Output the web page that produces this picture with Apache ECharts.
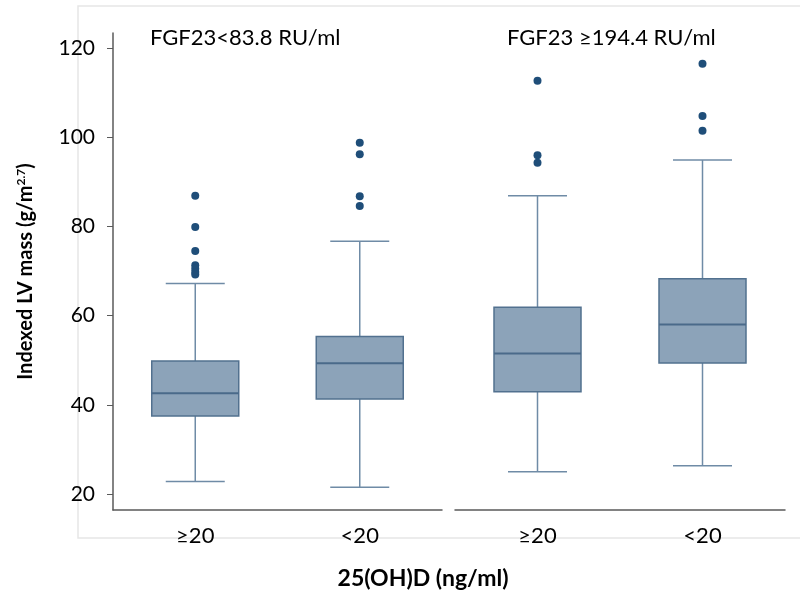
<!DOCTYPE html>
<html>
<head>
<meta charset="utf-8">
<title>Indexed LV mass by 25(OH)D and FGF23</title>
<script src="https://cdn.jsdelivr.net/npm/echarts@6/dist/echarts.min.js"></script>
<style>
  html, body { margin: 0; padding: 0; background: #fff; }
  #main { width: 800px; height: 604px; }
</style>
</head>
<body>
<div id="main"></div>
<script>
// vitamin D categories, one pair per FGF23 group
var vitD = ['≥20', '<20'];
var groupTitles = ['FGF23<83.8 RU/ml', 'FGF23 ≥194.4 RU/ml'];
var yTicks = [20, 40, 60, 80, 100, 120];

// box statistics, order: grp1 ≥20, grp1 <20, grp2 ≥20, grp2 <20
var whiskerLow  = [22.8, 21.5, 25.0, 26.3];
var quart1      = [37.5, 41.3, 42.9, 49.4];
var median      = [42.6, 49.3, 51.5, 58.0];
var quart3      = [49.8, 55.3, 61.9, 68.3];
var whiskerHigh = [67.2, 76.7, 86.9, 94.9];

// outliers: [box index, value]
var outliers = [
  [0, 86.9], [0, 79.9], [0, 74.5], [0, 71.3], [0, 70.5], [0, 69.8], [0, 69.2],
  [1, 98.8], [1, 96.2], [1, 86.8], [1, 84.6],
  [2, 112.7], [2, 96.0], [2, 94.3],
  [3, 116.5], [3, 104.8], [3, 101.5]
];

var font = 'Lato, "Open Sans", sans-serif';
var yMin = 16.4, yMax = 123.4;

function boxRows(g) {
  var rows = [];
  for (var i = g * 2; i < g * 2 + 2; i++) {
    rows.push([vitD[i - g * 2], whiskerLow[i], quart1[i], median[i], quart3[i], whiskerHigh[i]]);
  }
  return rows;
}
function outlierRows(g) {
  return outliers.filter(function (o) { return Math.floor(o[0] / 2) === g; })
    .map(function (o) { return [vitD[o[0] % 2], o[1]]; });
}

function renderBox(params, api) {
  var x = api.value(0);
  var pLow = api.coord([x, api.value(1)]);
  var pQ1 = api.coord([x, api.value(2)]);
  var pMed = api.coord([x, api.value(3)]);
  var pQ3 = api.coord([x, api.value(4)]);
  var pHigh = api.coord([x, api.value(5)]);
  var cx = pLow[0];
  var bw = 87, cw = 59;
  var whisk = { stroke: '#6f8ba6', lineWidth: 1.5 };
  return {
    type: 'group',
    children: [
      { type: 'line', shape: { x1: cx, y1: pHigh[1], x2: cx, y2: pQ3[1] }, style: whisk },
      { type: 'line', shape: { x1: cx, y1: pQ1[1], x2: cx, y2: pLow[1] }, style: whisk },
      { type: 'line', shape: { x1: cx - cw / 2, y1: pHigh[1], x2: cx + cw / 2, y2: pHigh[1] }, style: whisk },
      { type: 'line', shape: { x1: cx - cw / 2, y1: pLow[1], x2: cx + cw / 2, y2: pLow[1] }, style: whisk },
      { type: 'rect', shape: { x: cx - bw / 2, y: pQ3[1], width: bw, height: pQ1[1] - pQ3[1] },
        style: { fill: '#8ca3b9', stroke: '#52718f', lineWidth: 1.5 } },
      { type: 'line', shape: { x1: cx - bw / 2, y1: pMed[1], x2: cx + bw / 2, y2: pMed[1] },
        style: { stroke: '#4a6a8a', lineWidth: 2 } }
    ]
  };
}

var myChart = echarts.init(document.getElementById('main'));

var axisColor = '#5a5a5a';
var xAxisBase = {
  type: 'category',
  data: vitD,
  axisLine: { lineStyle: { color: axisColor, width: 1.5 } },
  axisTick: { show: false },
  axisLabel: { fontFamily: font, fontSize: 22, color: '#000', margin: 15 },
  splitLine: { show: false }
};

var option = {
  animation: false,
  backgroundColor: '#fff',
  graphic: [{
    type: 'rect', silent: true, z: -10,
    shape: { x: 78, y: 6, width: 740, height: 532 },
    style: { fill: 'none', stroke: '#e6e6e6', lineWidth: 1.5 }
  }],
  title: [
    { text: groupTitles[0], left: 150, top: 27, padding: 0,
      textStyle: { fontFamily: font, fontSize: 22, fontWeight: 'normal', color: '#000' } },
    { text: groupTitles[1], left: 507, top: 27, padding: 0,
      textStyle: { fontFamily: font, fontSize: 22, fontWeight: 'normal', color: '#000' } },
    { text: '25(OH)D (ng/ml)', left: 423, textAlign: 'center', top: 567, padding: 0,
      textStyle: { fontFamily: font, fontSize: 23, fontWeight: 'bold', color: '#000' } }
  ],
  grid: [
    { left: 113, top: 33, width: 329, height: 477 },
    { left: 455, top: 33, width: 330, height: 477 }
  ],
  xAxis: [
    Object.assign({ gridIndex: 0 }, xAxisBase),
    Object.assign({ gridIndex: 1 }, xAxisBase)
  ],
  yAxis: [
    {
      gridIndex: 0, type: 'value', min: yMin, max: yMax,
      name: '{a|Indexed LV mass (g/m}{s|2.7}{a|)}',
      nameLocation: 'middle', nameGap: 76, nameRotate: 90,
      nameTextStyle: {
        rich: {
          a: { fontFamily: font, fontSize: 20, fontWeight: 'bold', color: '#000' },
          s: { fontFamily: font, fontSize: 12, fontWeight: 'bold', color: '#000', verticalAlign: 'top', padding: [0, 0, 10, 0] }
        }
      },
      axisLine: { show: true, lineStyle: { color: axisColor, width: 1.5 } },
      axisTick: { show: true, length: 6, customValues: yTicks, lineStyle: { color: axisColor } },
      axisLabel: { customValues: yTicks, fontFamily: font, fontSize: 21, color: '#000', margin: 18 },
      splitLine: { show: false }
    },
    {
      gridIndex: 1, type: 'value', min: yMin, max: yMax, show: false,
      splitLine: { show: false }
    }
  ],
  series: [
    { type: 'custom', xAxisIndex: 0, yAxisIndex: 0, renderItem: renderBox,
      encode: { x: 0, y: [1, 2, 3, 4, 5] }, data: boxRows(0) },
    { type: 'custom', xAxisIndex: 1, yAxisIndex: 1, renderItem: renderBox,
      encode: { x: 0, y: [1, 2, 3, 4, 5] }, data: boxRows(1) },
    { type: 'scatter', xAxisIndex: 0, yAxisIndex: 0, symbolSize: 8,
      itemStyle: { color: '#1f4e79', opacity: 1 }, data: outlierRows(0) },
    { type: 'scatter', xAxisIndex: 1, yAxisIndex: 1, symbolSize: 8,
      itemStyle: { color: '#1f4e79', opacity: 1 }, data: outlierRows(1) }
  ]
};

myChart.setOption(option);
</script>
</body>
</html>
